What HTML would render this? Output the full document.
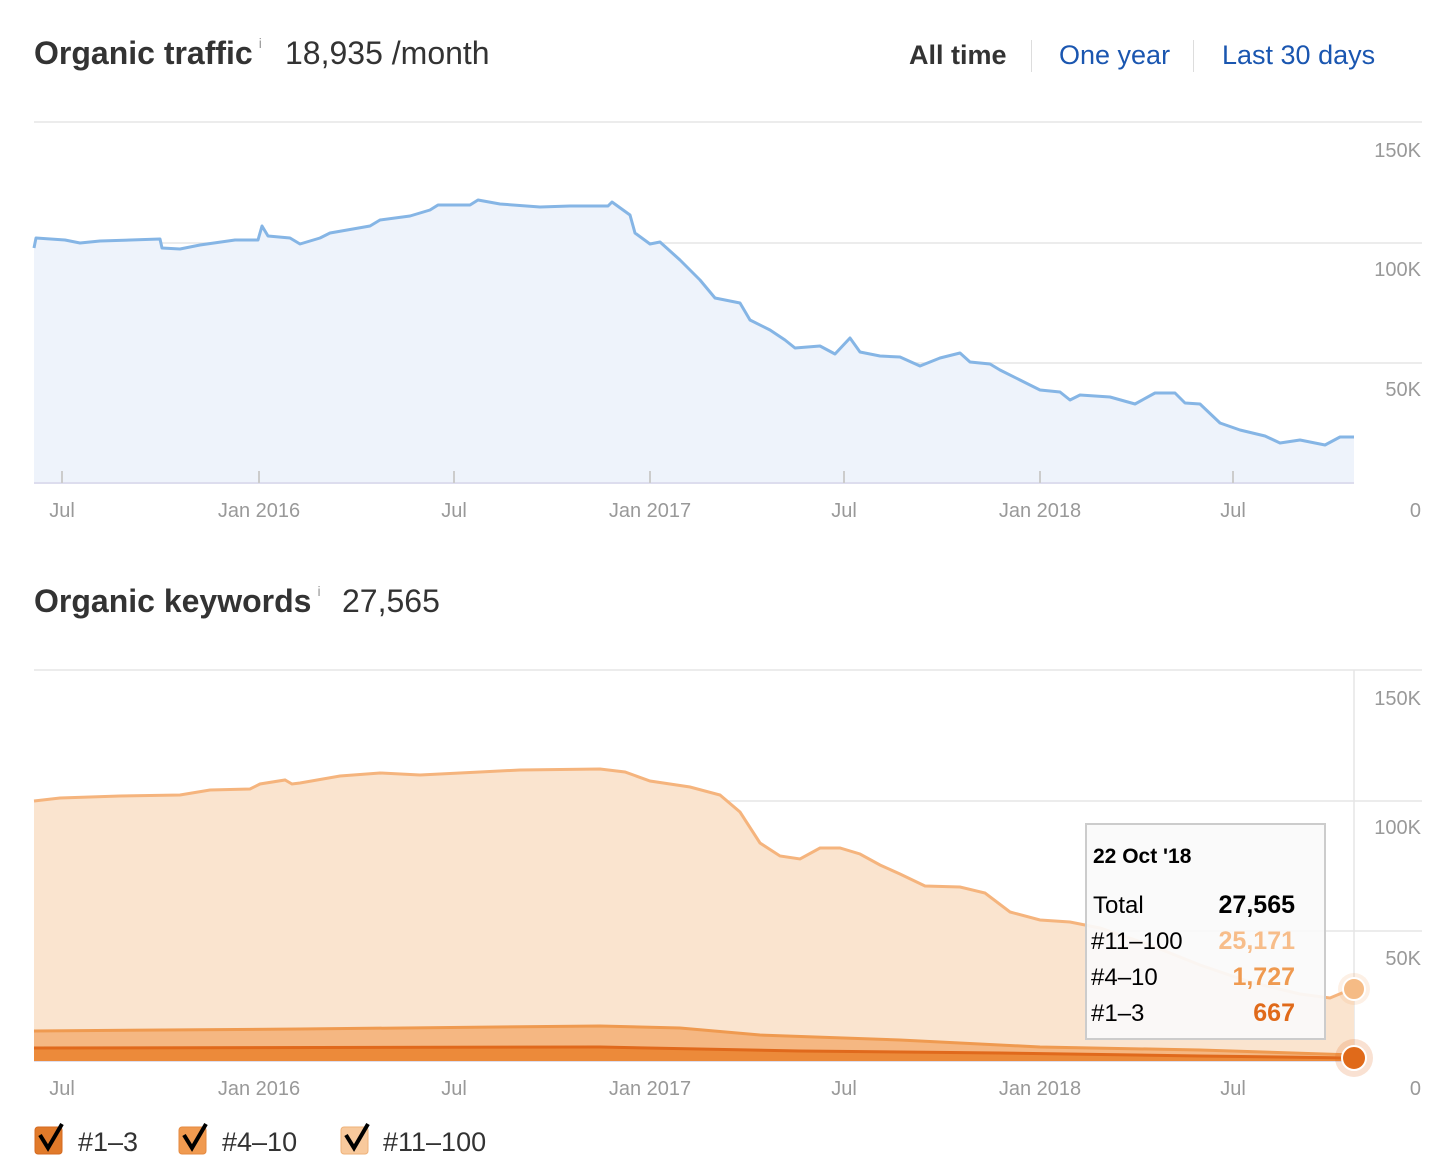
<!DOCTYPE html>
<html><head><meta charset="utf-8"><style>
body{margin:0;width:1454px;height:1174px;background:#fff;font-family:"Liberation Sans",sans-serif;overflow:hidden;position:relative}
.t{position:absolute;white-space:nowrap}
</style></head><body>
<div class="t" style="left:34px;top:35px;font-size:32px;font-weight:bold;color:#333">Organic traffic<sup style="font-size:14px;font-weight:normal;color:#999;margin-left:6px;vertical-align:top">i</sup></div>
<div class="t" style="left:285px;top:35px;font-size:32px;color:#333">18,935 /month</div>
<div class="t" style="left:909px;top:40px;font-size:27px;font-weight:bold;color:#333">All time</div>
<div style="position:absolute;left:1031px;top:40px;width:1px;height:32px;background:#ddd"></div>
<div class="t" style="left:1059px;top:40px;font-size:27px;color:#1a56b0">One year</div>
<div style="position:absolute;left:1193px;top:40px;width:1px;height:32px;background:#ddd"></div>
<div class="t" style="left:1222px;top:40px;font-size:27px;color:#1a56b0">Last 30 days</div>
<div class="t" style="left:34px;top:583px;font-size:32px;font-weight:bold;color:#333">Organic keywords<sup style="font-size:14px;font-weight:normal;color:#999;margin-left:6px;vertical-align:top">i</sup></div>
<div class="t" style="left:342px;top:583px;font-size:32px;color:#333">27,565</div>
<svg width="1454" height="1174" style="position:absolute;left:0;top:0" font-family="Liberation Sans, sans-serif">
<g stroke="#e5e5e5" stroke-width="1.5">
<line x1="34" y1="122" x2="1422" y2="122"/><line x1="34" y1="243" x2="1422" y2="243"/><line x1="34" y1="363" x2="1422" y2="363"/>
<line x1="34" y1="670" x2="1422" y2="670"/><line x1="34" y1="801" x2="1422" y2="801"/><line x1="34" y1="931" x2="1422" y2="931"/>
<line x1="1354" y1="670" x2="1354" y2="1061"/>
</g>
<path fill="#eef3fb" d="M34,248 L36,238 65,240 80,243 100,241 160,239 162,248 180,249 200,245 235,240 258,240 262,226 268,236 290,238 300,244 320,238 330,233 370,226 380,220 410,216 430,210 438,205 470,205 478,200 500,204 540,207 570,206 608,206 612,202 630,215 635,233 650,244 660,242 680,260 700,280 715,298 740,303 750,320 770,330 785,340 795,348 820,346 835,354 850,338 860,352 880,356 900,357 920,366 940,358 960,353 970,362 990,364 1000,370 1020,380 1040,390 1060,392 1070,400 1080,395 1110,397 1135,404 1155,393 1175,393 1185,403 1200,404 1220,423 1240,430 1265,436 1280,443 1300,440 1325,445 1340,437 1354,437 L1354,483 L34,483Z"/>
<path fill="none" stroke="#85b5e5" stroke-width="3" stroke-linejoin="round" d="M34,248 L36,238 65,240 80,243 100,241 160,239 162,248 180,249 200,245 235,240 258,240 262,226 268,236 290,238 300,244 320,238 330,233 370,226 380,220 410,216 430,210 438,205 470,205 478,200 500,204 540,207 570,206 608,206 612,202 630,215 635,233 650,244 660,242 680,260 700,280 715,298 740,303 750,320 770,330 785,340 795,348 820,346 835,354 850,338 860,352 880,356 900,357 920,366 940,358 960,353 970,362 990,364 1000,370 1020,380 1040,390 1060,392 1070,400 1080,395 1110,397 1135,404 1155,393 1175,393 1185,403 1200,404 1220,423 1240,430 1265,436 1280,443 1300,440 1325,445 1340,437 1354,437"/>
<g stroke="#dde" stroke-width="2"><line x1="34" y1="483" x2="1354" y2="483"/><line x1="34" y1="1061" x2="1354" y2="1061"/></g>
<g stroke="#ccc" stroke-width="2">
<line x1="62" y1="471" x2="62" y2="483"/><line x1="259" y1="471" x2="259" y2="483"/><line x1="454" y1="471" x2="454" y2="483"/><line x1="650" y1="471" x2="650" y2="483"/><line x1="844" y1="471" x2="844" y2="483"/><line x1="1040" y1="471" x2="1040" y2="483"/><line x1="1233" y1="471" x2="1233" y2="483"/>
</g>
<g font-size="20" fill="#999" text-anchor="middle">
<text x="62" y="517">Jul</text><text x="259" y="517">Jan 2016</text><text x="454" y="517">Jul</text><text x="650" y="517">Jan 2017</text><text x="844" y="517">Jul</text><text x="1040" y="517">Jan 2018</text><text x="1233" y="517">Jul</text>
<text x="62" y="1095">Jul</text><text x="259" y="1095">Jan 2016</text><text x="454" y="1095">Jul</text><text x="650" y="1095">Jan 2017</text><text x="844" y="1095">Jul</text><text x="1040" y="1095">Jan 2018</text><text x="1233" y="1095">Jul</text>
</g>
<g font-size="20" fill="#999" text-anchor="end">
<text x="1421" y="157">150K</text><text x="1421" y="276">100K</text><text x="1421" y="396">50K</text><text x="1421" y="517">0</text>
<text x="1421" y="705">150K</text><text x="1421" y="834">100K</text><text x="1421" y="965">50K</text><text x="1421" y="1095">0</text>
</g>
<path fill="#fae4cf" d="M34,801 L60,798 120,796 180,795 210,790 250,789 260,784 285,780 292,784 300,783 340,776 380,773 420,775 480,772 520,770 600,769 625,772 650,781 690,787 720,795 740,812 760,843 780,856 800,859 820,848 840,848 860,854 880,865 900,874 925,886 960,887 985,893 1010,912 1040,920 1070,922 1100,928 1150,945 1200,965 1250,982 1300,994 1330,998 1354,988 L1354,1061 L34,1061Z"/>
<path fill="none" stroke="#f5b47d" stroke-width="3" d="M34,801 L60,798 120,796 180,795 210,790 250,789 260,784 285,780 292,784 300,783 340,776 380,773 420,775 480,772 520,770 600,769 625,772 650,781 690,787 720,795 740,812 760,843 780,856 800,859 820,848 840,848 860,854 880,865 900,874 925,886 960,887 985,893 1010,912 1040,920 1070,922 1100,928 1150,945 1200,965 1250,982 1300,994 1330,998 1354,988"/>
<path fill="#f5b782" d="M34,1031 L300,1029 600,1026 680,1028 760,1035 900,1040 1040,1047 1200,1050 1354,1055 L1354,1061 L34,1061Z"/>
<path fill="none" stroke="#ef9a50" stroke-width="3" d="M34,1031 L300,1029 600,1026 680,1028 760,1035 900,1040 1040,1047 1200,1050 1354,1055"/>
<path fill="#ec8a3a" d="M34,1048 L600,1047 800,1051 1000,1053 1200,1056 1354,1058 L1354,1061 L34,1061Z"/>
<path fill="none" stroke="#e0691c" stroke-width="3" d="M34,1048 L600,1047 800,1051 1000,1053 1200,1056 1354,1058"/>
<rect x="1086" y="824" width="239" height="215" fill="#fafafa" fill-opacity="0.93" stroke="#ccc" stroke-width="2"/>
<text x="1093" y="863" font-size="21" font-weight="bold" fill="#000">22 Oct '18</text>
<g font-size="24" fill="#000"><text x="1093" y="913">Total</text><text x="1091" y="949">#11–100</text><text x="1091" y="985">#4–10</text><text x="1091" y="1021">#1–3</text></g>
<g font-size="25" font-weight="bold" text-anchor="end"><text x="1295" y="913" fill="#000">27,565</text><text x="1295" y="949" fill="#f7bd8a">25,171</text><text x="1295" y="985" fill="#ef9a50">1,727</text><text x="1295" y="1021" fill="#e06a1a">667</text></g>
<circle cx="1354" cy="989" r="16" fill="#f5b47d" opacity="0.2"/><circle cx="1354" cy="989" r="11" fill="#f5bb85" stroke="#fff" stroke-width="2"/>
<circle cx="1354" cy="1058" r="19" fill="#e0691c" opacity="0.2"/><circle cx="1354" cy="1058" r="12" fill="#e06a1a" stroke="#fff" stroke-width="2"/>
<g>
<rect x="35" y="1127" width="27" height="27" rx="3" fill="#e17a2a" stroke="#d46a20"/>
<rect x="179" y="1127" width="27" height="27" rx="3" fill="#f09a50" stroke="#e58a40"/>
<rect x="341" y="1127" width="27" height="27" rx="3" fill="#f8c99c" stroke="#eeb27a"/>
<g fill="none" stroke="#000" stroke-width="4"><path d="M40,1135 L48,1148 L62,1124"/><path d="M184,1135 L192,1148 L206,1124"/><path d="M346,1135 L354,1148 L368,1124"/></g>
</g>
<g font-size="27" fill="#333"><text x="78" y="1151">#1–3</text><text x="222" y="1151">#4–10</text><text x="383" y="1151">#11–100</text></g>
</svg>
</body></html>
